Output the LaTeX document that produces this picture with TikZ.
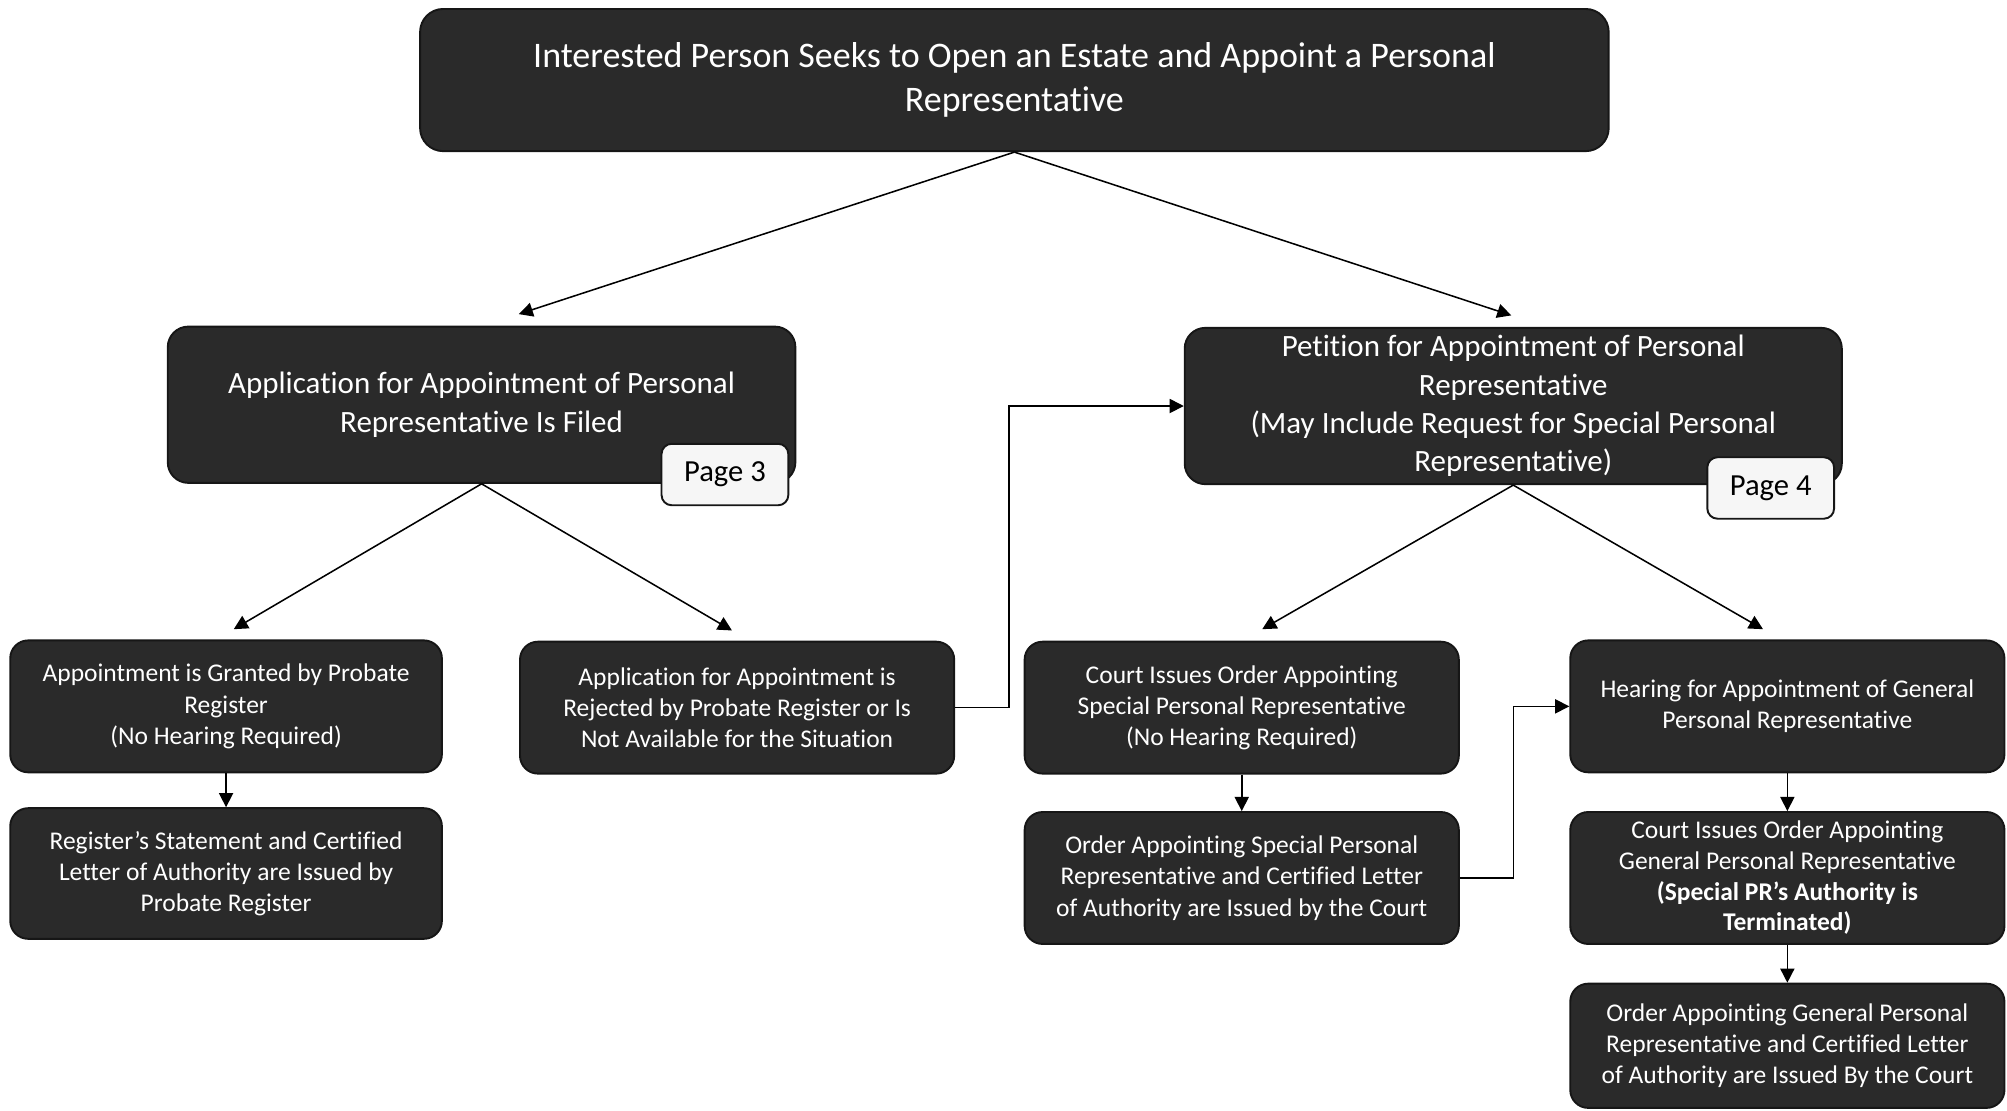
\documentclass[tikz,border=0pt]{standalone}
\usepackage{fontspec}
\setmainfont{Carlito}[Ligatures=NoCommon]
\usetikzlibrary{arrows.meta,calc}
\definecolor{boxfill}{HTML}{2A2A2A}
\definecolor{boxline}{HTML}{161616}
\definecolor{tabfill}{HTML}{F6F6F6}
\tikzset{
  box/.style={draw=boxline, line width=1.5bp, fill=boxfill, rounded corners=14bp,
    text=white, align=center, inner sep=0pt, minimum width=339bp, minimum height=103bp,
    font=\fontsize{20}{24.5}\selectfont},
  bigbox/.style={box, minimum height=122bp, rounded corners=16bp,
    font=\fontsize{24.3}{30}\selectfont},
  pagetab/.style={draw=boxline, line width=1.5bp, fill=tabfill, rounded corners=8bp,
    text=black, inner sep=0pt, minimum width=99bp, minimum height=48bp,
    font=\fontsize{24}{28}\selectfont},
  conn/.style={line width=1.2bp, draw=black, -{Triangle[length=11bp,width=11bp]}},
}
\begin{document}
\begin{tikzpicture}[x=1bp,y=-1bp]
\useasboundingbox (0,0) rectangle (1567,866.7);
% top
\node[box, minimum width=928bp, minimum height=111bp, rounded corners=18bp,
  font=\fontsize{28.2}{34}\selectfont] (top) at (792,62.5)
  {Interested Person Seeks to Open an Estate and Appoint a Personal\\Representative};
% level 2
\node[bigbox, minimum width=490bp] (app) at (376,316)
  {Application for Appointment of Personal\\Representative Is Filed};
\node[bigbox, minimum width=513bp] (pet) at (1181.5,317)
  {Petition for Appointment of Personal\\Representative\\(May Include Request for Special Personal\\Representative)};
\node[pagetab] (p3) at (566,370.5) {Page 3};
\node[pagetab] (p4) at (1382.5,381) {Page 4};
% level 3
\node[box, minimum width=337bp] (grant) at (176.5,551.5)
  {Appointment is Granted by Probate\\Register\\(No Hearing Required)};
\node[box, minimum width=337bp, minimum height=102bp] (reg) at (176.5,682)
  {Register’s Statement and Certified\\Letter of Authority are Issued by\\Probate Register};
\node[box] (rej) at (575.5,552.5)
  {Application for Appointment is\\Rejected by Probate Register or Is\\Not Available for the Situation};
\node[box] (cspr) at (969.5,552.5)
  {Court Issues Order Appointing\\Special Personal Representative\\(No Hearing Required)};
\node[box] (ospr) at (969.5,685.5)
  {Order Appointing Special Personal\\Representative and Certified Letter\\of Authority are Issued by the Court};
\node[box] (hear) at (1395.5,551.5)
  {Hearing for Appointment of General\\Personal Representative};
\node[box, font=\fontsize{20}{24}\selectfont] (cgpr) at (1395.5,685.5)
  {Court Issues Order Appointing\\General Personal Representative\\\textbf{(Special PR’s Authority is}\\\textbf{Terminated)}};
\node[box, minimum height=97bp] (ogpr) at (1395.5,816.5)
  {Order Appointing General Personal\\Representative and Certified Letter\\of Authority are Issued By the Court};
% connectors
\draw[conn] (top.south) -- ([xshift=29bp,yshift=9bp]app.north);
\draw[conn] (top.south) -- ([xshift=-1.5bp,yshift=9bp]pet.north);
\draw[conn] (app.south) -- ([xshift=6bp,yshift=8bp]grant.north);
\draw[conn] (app.south) -- ([xshift=-4bp,yshift=8bp]rej.north);
\draw[conn] (pet.south) -- ([xshift=16bp,yshift=9bp]cspr.north);
\draw[conn] (pet.south) -- ([xshift=-19bp,yshift=8bp]hear.north);
\draw[conn] (grant.south) -- (reg.north);
\draw[conn] (cspr.south) -- (ospr.north);
\draw[conn] (hear.south) -- (cgpr.north);
\draw[conn] (cgpr.south) -- (ogpr.north);
\draw[conn] (rej.east) -- ++(42,0) |- (pet.west);
\draw[conn] (ospr.east) -- ++(42,0) |- (hear.west);
\end{tikzpicture}
\end{document}
